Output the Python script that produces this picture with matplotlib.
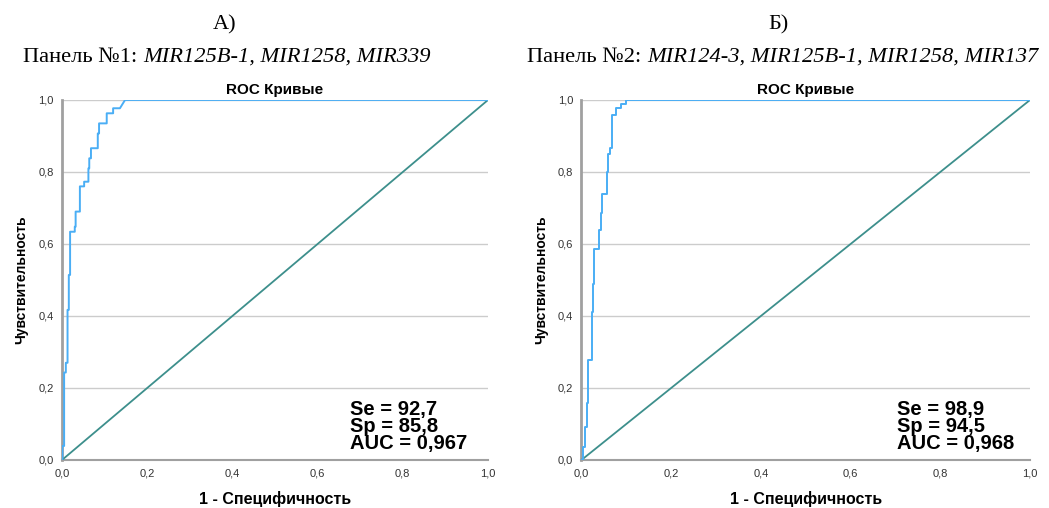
import matplotlib.pyplot as plt
import matplotlib.ticker as mticker
import numpy as np

# ---- data ----
# panel A: vertical steps of the ROC curve (fpr where it jumps, tpr it reaches)
fpr_a = [0.001, 0.005, 0.009, 0.013, 0.016, 0.019, 0.030, 0.032, 0.042, 0.052,
         0.062, 0.064, 0.068, 0.084, 0.087, 0.105, 0.120]
tpr_a = [0.039, 0.243, 0.270, 0.417, 0.514, 0.634, 0.648, 0.690, 0.760, 0.773,
         0.810, 0.838, 0.866, 0.907, 0.935, 0.963, 0.977]
tail_fpr_a = [0.136, 0.148, 1.0]
tail_tpr_a = [0.977, 1.0, 1.0]

# panel B
fpr_b = [0.003, 0.008, 0.0115, 0.015, 0.023, 0.026, 0.028, 0.040, 0.0435, 0.046,
         0.056, 0.060, 0.064, 0.067, 0.077, 0.088, 0.100]
tpr_b = [0.037, 0.093, 0.158, 0.278, 0.410, 0.490, 0.586, 0.640, 0.686, 0.740,
         0.800, 0.850, 0.867, 0.957, 0.979, 0.988, 1.0]
tail_fpr_b = [1.0]
tail_tpr_b = [1.0]

stats_a = "Se = 92,7\nSp = 85,8\nAUC = 0,967"
stats_b = "Se = 98,9\nSp = 94,5\nAUC = 0,968"

letters = ["А)", "Б)"]
panel_names = ["Панель №1: ", "Панель №2: "]
panel_genes = ["MIR125B-1, MIR1258, MIR339", "MIR124-3, MIR125B-1, MIR1258, MIR137"]

CURVE = '#4aaef5'
DIAG = '#3d8f8c'
SANS = 'Liberation Sans'
SERIF = 'Liberation Serif'


def step_points(fpr, tpr, tail_f, tail_t):
    xs, ys = [0.0], [0.0]
    for f, t in zip(fpr, tpr):
        xs += [f, f]
        ys += [ys[-1], t]
    return np.array(xs + tail_f), np.array(ys + tail_t)


def comma(v, pos):
    return f"{v:.1f}".replace('.', ',')


fig = plt.figure(figsize=(10.49, 5.08), dpi=100)
ax_a = fig.add_axes([0.0591, 0.0945, 0.4061, 0.7087])
ax_b = fig.add_axes([0.5543, 0.0945, 0.4276, 0.7087])

panels = [
    (ax_a, fpr_a, tpr_a, tail_fpr_a, tail_tpr_a, stats_a, 0.676),
    (ax_b, fpr_b, tpr_b, tail_fpr_b, tail_tpr_b, stats_b, 0.703),
]

for ax, f, t, tf, tt, stats, sx in panels:
    xs, ys = step_points(f, t, tf, tt)
    ax.plot([0, 1], [0, 1], color=DIAG, linewidth=1.3, zorder=3)
    ax.plot(xs, ys, color=CURVE, linewidth=1.4, zorder=4)
    ax.set_xlim(0, 1)
    ax.set_ylim(0, 1)
    ax.set_xticks(np.arange(0, 1.01, 0.2))
    ax.set_yticks(np.arange(0, 1.01, 0.2))
    ax.xaxis.set_major_formatter(mticker.FuncFormatter(comma))
    ax.yaxis.set_major_formatter(mticker.FuncFormatter(comma))
    ax.tick_params(length=0, labelsize=8, colors='#333333', pad=6)
    for lab in ax.get_xticklabels() + ax.get_yticklabels():
        lab.set_family(SANS)
    ax.grid(True, axis='y', color='#cccccc', linewidth=1)
    ax.set_axisbelow(True)
    for s in ['top', 'right']:
        ax.spines[s].set_visible(False)
    ax.spines['left'].set_color('#a0a0a0')
    ax.spines['left'].set_linewidth(2)
    ax.spines['bottom'].set_color('#a0a0a0')
    ax.spines['bottom'].set_linewidth(1.5)
    ax.set_title('ROC Кривые', fontsize=11, fontweight='bold', family=SANS, pad=4)
    ax.set_xlabel('1 - Специфичность', fontsize=11.5, fontweight='bold', family=SANS, labelpad=9)
    ax.set_ylabel('Чувствительность', fontsize=10, fontweight='bold', family=SANS, labelpad=7)
    ax.text(sx, 0.167, stats, transform=ax.transAxes, fontsize=14.5, fontweight='bold',
            family=SANS, va='top', ha='left', linespacing=0.86, zorder=5)

# top headers: letter + mixed regular / italic panel name
renderer = fig.canvas.get_renderer()
centers = [0.216, 0.746]
letter_x = [0.2145, 0.742]
for cx, lx, letter, name, genes in zip(centers, letter_x, letters, panel_names, panel_genes):
    fig.text(lx, 0.952, letter, fontsize=16, family=SERIF, ha='center', va='center')
    t1 = fig.text(0, 0.887, name, fontsize=16.2, family=SERIF, ha='left', va='center')
    t2 = fig.text(0, 0.887, genes, fontsize=16.2, family=SERIF, style='italic',
                  ha='left', va='center')
    w1 = t1.get_window_extent(renderer).width / fig.bbox.width
    w2 = t2.get_window_extent(renderer).width / fig.bbox.width
    start = cx - (w1 + w2) / 2
    t1.set_x(start)
    t2.set_x(start + w1)

fig.savefig('out.png', dpi=100)
